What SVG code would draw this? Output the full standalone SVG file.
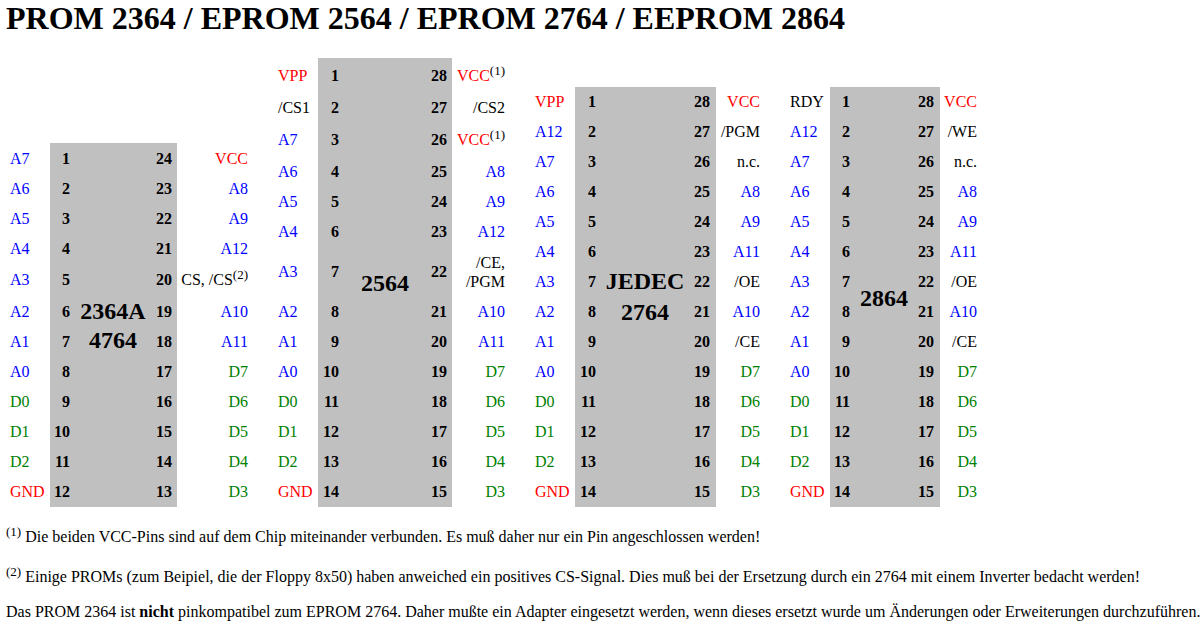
<svg xmlns="http://www.w3.org/2000/svg" width="1204" height="627" viewBox="0 0 1204 627">
<style>
text{font-family:"Liberation Serif","Times New Roman",serif;font-size:16px;fill:#000}
.t{font-size:32px;font-weight:bold}
.p{font-weight:bold}
.e{text-anchor:end}
.big{font-size:24px;font-weight:bold;text-anchor:middle}
.a{fill:#0000FF}
.d{fill:#008000}
.r{fill:#FF0000}
.s{font-size:13px}
.chip{fill:#C0C0C0}
</style>
<rect width="1204" height="627" fill="#fff"/>
<text class="t" x="6" y="29">PROM 2364 / EPROM 2564 / EPROM 2764 / EEPROM 2864</text>
<g id="connectors"/>

<g id="chip-2364">
<rect class="chip" x="50" y="143" width="127" height="364"/>
<text class="big" x="113" y="319">2364A</text>
<text class="big" x="113" y="348">4764</text>
<g>
<text class="a" x="10" y="164">A7</text>
<text class="a" x="10" y="194">A6</text>
<text class="a" x="10" y="224">A5</text>
<text class="a" x="10" y="254">A4</text>
<text class="a" x="10" y="285">A3</text>
<text class="a" x="10" y="317">A2</text>
<text class="a" x="10" y="347">A1</text>
<text class="a" x="10" y="377">A0</text>
<text class="d" x="10" y="407">D0</text>
<text class="d" x="10" y="437">D1</text>
<text class="d" x="10" y="467">D2</text>
<text class="r" x="10" y="497">GND</text>
</g>
<g class="p">
<text class="p e" x="70" y="164">1</text>
<text class="p e" x="70" y="194">2</text>
<text class="p e" x="70" y="224">3</text>
<text class="p e" x="70" y="254">4</text>
<text class="p e" x="70" y="285">5</text>
<text class="p e" x="70" y="317">6</text>
<text class="p e" x="70" y="347">7</text>
<text class="p e" x="70" y="377">8</text>
<text class="p e" x="70" y="407">9</text>
<text class="p e" x="70" y="437">10</text>
<text class="p e" x="70" y="467">11</text>
<text class="p e" x="70" y="497">12</text>
<text class="p e" x="172" y="164">24</text>
<text class="p e" x="172" y="194">23</text>
<text class="p e" x="172" y="224">22</text>
<text class="p e" x="172" y="254">21</text>
<text class="p e" x="172" y="285">20</text>
<text class="p e" x="172" y="317">19</text>
<text class="p e" x="172" y="347">18</text>
<text class="p e" x="172" y="377">17</text>
<text class="p e" x="172" y="407">16</text>
<text class="p e" x="172" y="437">15</text>
<text class="p e" x="172" y="467">14</text>
<text class="p e" x="172" y="497">13</text>
</g>
<g>
<text class="r e" x="248" y="164">VCC</text>
<text class="a e" x="248" y="194">A8</text>
<text class="a e" x="248" y="224">A9</text>
<text class="a e" x="248" y="254">A12</text>
<text class="e" x="248" y="285">CS, /CS<tspan class="s" dy="-6">(2)</tspan></text>
<text class="a e" x="248" y="317">A10</text>
<text class="a e" x="248" y="347">A11</text>
<text class="d e" x="248" y="377">D7</text>
<text class="d e" x="248" y="407">D6</text>
<text class="d e" x="248" y="437">D5</text>
<text class="d e" x="248" y="467">D4</text>
<text class="d e" x="248" y="497">D3</text>
</g>
</g>

<g id="chip-2564">
<rect class="chip" x="318" y="58" width="134" height="449"/>
<text class="big" x="385" y="291">2564</text>
<g>
<text class="r" x="278" y="81">VPP</text>
<text x="278" y="113">/CS1</text>
<text class="a" x="278" y="145">A7</text>
<text class="a" x="278" y="177">A6</text>
<text class="a" x="278" y="207">A5</text>
<text class="a" x="278" y="237">A4</text>
<text class="a" x="278" y="277">A3</text>
<text class="a" x="278" y="317">A2</text>
<text class="a" x="278" y="347">A1</text>
<text class="a" x="278" y="377">A0</text>
<text class="d" x="278" y="407">D0</text>
<text class="d" x="278" y="437">D1</text>
<text class="d" x="278" y="467">D2</text>
<text class="r" x="278" y="497">GND</text>
</g>
<g>
<text class="p e" x="339" y="81">1</text>
<text class="p e" x="339" y="113">2</text>
<text class="p e" x="339" y="145">3</text>
<text class="p e" x="339" y="177">4</text>
<text class="p e" x="339" y="207">5</text>
<text class="p e" x="339" y="237">6</text>
<text class="p e" x="339" y="277">7</text>
<text class="p e" x="339" y="317">8</text>
<text class="p e" x="339" y="347">9</text>
<text class="p e" x="339" y="377">10</text>
<text class="p e" x="339" y="407">11</text>
<text class="p e" x="339" y="437">12</text>
<text class="p e" x="339" y="467">13</text>
<text class="p e" x="339" y="497">14</text>
<text class="p e" x="447" y="81">28</text>
<text class="p e" x="447" y="113">27</text>
<text class="p e" x="447" y="145">26</text>
<text class="p e" x="447" y="177">25</text>
<text class="p e" x="447" y="207">24</text>
<text class="p e" x="447" y="237">23</text>
<text class="p e" x="447" y="277">22</text>
<text class="p e" x="447" y="317">21</text>
<text class="p e" x="447" y="347">20</text>
<text class="p e" x="447" y="377">19</text>
<text class="p e" x="447" y="407">18</text>
<text class="p e" x="447" y="437">17</text>
<text class="p e" x="447" y="467">16</text>
<text class="p e" x="447" y="497">15</text>
</g>
<g>
<text class="e" x="505" y="81"><tspan class="r">VCC</tspan><tspan class="s" dy="-6">(1)</tspan></text>
<text class="e" x="505" y="113">/CS2</text>
<text class="e" x="505" y="145"><tspan class="r">VCC</tspan><tspan class="s" dy="-6">(1)</tspan></text>
<text class="a e" x="505" y="177">A8</text>
<text class="a e" x="505" y="207">A9</text>
<text class="a e" x="505" y="237">A12</text>
<text class="e" x="505" y="268">/CE,</text>
<text class="e" x="505" y="287">/PGM</text>
<text class="a e" x="505" y="317">A10</text>
<text class="a e" x="505" y="347">A11</text>
<text class="d e" x="505" y="377">D7</text>
<text class="d e" x="505" y="407">D6</text>
<text class="d e" x="505" y="437">D5</text>
<text class="d e" x="505" y="467">D4</text>
<text class="d e" x="505" y="497">D3</text>
</g>
</g>

<g id="chip-2764">
<rect class="chip" x="575" y="87" width="141" height="420"/>
<text class="big" x="645" y="289">JEDEC</text>
<text class="big" x="645" y="320">2764</text>
<g>
<text class="r" x="535" y="107">VPP</text>
<text class="a" x="535" y="137">A12</text>
<text class="a" x="535" y="167">A7</text>
<text class="a" x="535" y="197">A6</text>
<text class="a" x="535" y="227">A5</text>
<text class="a" x="535" y="257">A4</text>
<text class="a" x="535" y="287">A3</text>
<text class="a" x="535" y="317">A2</text>
<text class="a" x="535" y="347">A1</text>
<text class="a" x="535" y="377">A0</text>
<text class="d" x="535" y="407">D0</text>
<text class="d" x="535" y="437">D1</text>
<text class="d" x="535" y="467">D2</text>
<text class="r" x="535" y="497">GND</text>
</g>
<g>
<text class="p e" x="596" y="107">1</text>
<text class="p e" x="596" y="137">2</text>
<text class="p e" x="596" y="167">3</text>
<text class="p e" x="596" y="197">4</text>
<text class="p e" x="596" y="227">5</text>
<text class="p e" x="596" y="257">6</text>
<text class="p e" x="596" y="287">7</text>
<text class="p e" x="596" y="317">8</text>
<text class="p e" x="596" y="347">9</text>
<text class="p e" x="596" y="377">10</text>
<text class="p e" x="596" y="407">11</text>
<text class="p e" x="596" y="437">12</text>
<text class="p e" x="596" y="467">13</text>
<text class="p e" x="596" y="497">14</text>
<text class="p e" x="710" y="107">28</text>
<text class="p e" x="710" y="137">27</text>
<text class="p e" x="710" y="167">26</text>
<text class="p e" x="710" y="197">25</text>
<text class="p e" x="710" y="227">24</text>
<text class="p e" x="710" y="257">23</text>
<text class="p e" x="710" y="287">22</text>
<text class="p e" x="710" y="317">21</text>
<text class="p e" x="710" y="347">20</text>
<text class="p e" x="710" y="377">19</text>
<text class="p e" x="710" y="407">18</text>
<text class="p e" x="710" y="437">17</text>
<text class="p e" x="710" y="467">16</text>
<text class="p e" x="710" y="497">15</text>
</g>
<g>
<text class="r e" x="760" y="107">VCC</text>
<text class="e" x="760" y="137">/PGM</text>
<text class="e" x="760" y="167">n.c.</text>
<text class="a e" x="760" y="197">A8</text>
<text class="a e" x="760" y="227">A9</text>
<text class="a e" x="760" y="257">A11</text>
<text class="e" x="760" y="287">/OE</text>
<text class="a e" x="760" y="317">A10</text>
<text class="e" x="760" y="347">/CE</text>
<text class="d e" x="760" y="377">D7</text>
<text class="d e" x="760" y="407">D6</text>
<text class="d e" x="760" y="437">D5</text>
<text class="d e" x="760" y="467">D4</text>
<text class="d e" x="760" y="497">D3</text>
</g>
</g>

<g id="chip-2864">
<rect class="chip" x="830" y="87" width="110" height="420"/>
<text class="big" x="884" y="306">2864</text>
<g>
<text x="790" y="107">RDY</text>
<text class="a" x="790" y="137">A12</text>
<text class="a" x="790" y="167">A7</text>
<text class="a" x="790" y="197">A6</text>
<text class="a" x="790" y="227">A5</text>
<text class="a" x="790" y="257">A4</text>
<text class="a" x="790" y="287">A3</text>
<text class="a" x="790" y="317">A2</text>
<text class="a" x="790" y="347">A1</text>
<text class="a" x="790" y="377">A0</text>
<text class="d" x="790" y="407">D0</text>
<text class="d" x="790" y="437">D1</text>
<text class="d" x="790" y="467">D2</text>
<text class="r" x="790" y="497">GND</text>
</g>
<g>
<text class="p e" x="850" y="107">1</text>
<text class="p e" x="850" y="137">2</text>
<text class="p e" x="850" y="167">3</text>
<text class="p e" x="850" y="197">4</text>
<text class="p e" x="850" y="227">5</text>
<text class="p e" x="850" y="257">6</text>
<text class="p e" x="850" y="287">7</text>
<text class="p e" x="850" y="317">8</text>
<text class="p e" x="850" y="347">9</text>
<text class="p e" x="850" y="377">10</text>
<text class="p e" x="850" y="407">11</text>
<text class="p e" x="850" y="437">12</text>
<text class="p e" x="850" y="467">13</text>
<text class="p e" x="850" y="497">14</text>
<text class="p e" x="934" y="107">28</text>
<text class="p e" x="934" y="137">27</text>
<text class="p e" x="934" y="167">26</text>
<text class="p e" x="934" y="197">25</text>
<text class="p e" x="934" y="227">24</text>
<text class="p e" x="934" y="257">23</text>
<text class="p e" x="934" y="287">22</text>
<text class="p e" x="934" y="317">21</text>
<text class="p e" x="934" y="347">20</text>
<text class="p e" x="934" y="377">19</text>
<text class="p e" x="934" y="407">18</text>
<text class="p e" x="934" y="437">17</text>
<text class="p e" x="934" y="467">16</text>
<text class="p e" x="934" y="497">15</text>
</g>
<g>
<text class="r e" x="977" y="107">VCC</text>
<text class="e" x="977" y="137">/WE</text>
<text class="e" x="977" y="167">n.c.</text>
<text class="a e" x="977" y="197">A8</text>
<text class="a e" x="977" y="227">A9</text>
<text class="a e" x="977" y="257">A11</text>
<text class="e" x="977" y="287">/OE</text>
<text class="a e" x="977" y="317">A10</text>
<text class="e" x="977" y="347">/CE</text>
<text class="d e" x="977" y="377">D7</text>
<text class="d e" x="977" y="407">D6</text>
<text class="d e" x="977" y="437">D5</text>
<text class="d e" x="977" y="467">D4</text>
<text class="d e" x="977" y="497">D3</text>
</g>
</g>

<g id="notes">
<text x="6" y="542"><tspan class="s" dy="-6">(1)</tspan><tspan dy="6"> Die beiden VCC-Pins sind auf dem Chip miteinander verbunden. Es muß daher nur ein Pin angeschlossen werden!</tspan></text>
<text x="6" y="582"><tspan class="s" dy="-6">(2)</tspan><tspan dy="6"> Einige PROMs (zum Beipiel, die der Floppy 8x50) haben anweiched ein positives CS-Signal. Dies muß bei der Ersetzung durch ein 2764 mit einem Inverter bedacht werden!</tspan></text>
<text x="6" y="617">Das PROM 2364 ist <tspan class="p">nicht</tspan> pinkompatibel zum EPROM 2764. Daher mußte ein Adapter eingesetzt werden, wenn dieses ersetzt wurde um Änderungen oder Erweiterungen durchzuführen.</text>
</g>
</svg>
